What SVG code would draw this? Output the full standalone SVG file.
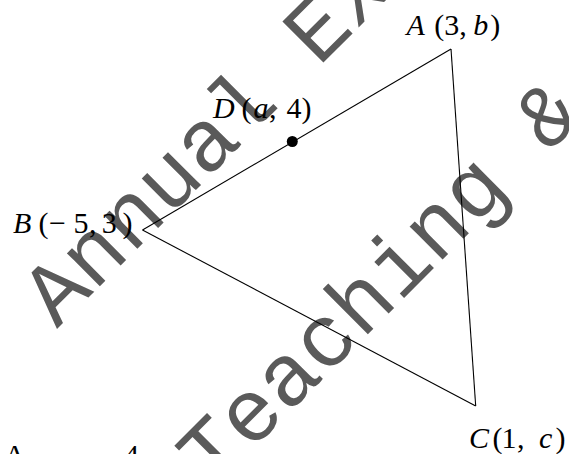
<svg xmlns="http://www.w3.org/2000/svg" width="569" height="454" viewBox="0 0 569 454">
<style>
.wm{font-family:"Liberation Mono","DejaVu Sans Mono",monospace;font-size:88px;fill:#5a5a5a}
.lbl{font-family:"Liberation Serif","Times New Roman",serif;font-size:30px;fill:#000}
.it{font-style:italic}
.edge{stroke:#000;stroke-width:1.1;fill:none}
</style>
<rect width="569" height="454" fill="#fff"/>
<g id="watermark">
<text class="wm" transform="translate(57,329) rotate(-45)">Annual Ex</text>
<text class="wm" transform="translate(213,489) rotate(-45)">Teaching &amp;</text>
</g>
<g id="connectors">
<line class="edge" x1="451" y1="49" x2="142.5" y2="230"/>
<line class="edge" x1="142.5" y1="230" x2="475.7" y2="406"/>
<line class="edge" x1="475.7" y1="406" x2="451" y2="49"/>
</g>
<g id="nodeA">
<text class="lbl" y="34.5"><tspan class="it" x="406.5">A</tspan><tspan x="434.3">(3,</tspan><tspan class="it" x="473.3">b</tspan><tspan x="490.2">)</tspan></text>
</g>
<g id="nodeB">
<text class="lbl" y="233"><tspan class="it" x="13">B</tspan><tspan x="38.6">(</tspan><tspan x="49">−</tspan><tspan x="73.5">5</tspan><tspan x="89">,</tspan><tspan x="101.7">3</tspan><tspan x="122.5">)</tspan></text>
</g>
<g id="nodeC">
<text class="lbl" y="447.5"><tspan class="it" x="469">C</tspan><tspan x="492.5">(</tspan><tspan x="501.5">1</tspan><tspan x="517">,</tspan><tspan class="it" x="539">c</tspan><tspan x="555.5">)</tspan></text>
</g>
<g id="nodeD">
<circle cx="292.3" cy="141.5" r="5.5" fill="#000"/>
<text class="lbl" y="118"><tspan class="it" x="213">D</tspan><tspan x="241.6">(</tspan><tspan class="it" x="253.5">a</tspan><tspan x="269">,</tspan><tspan x="286.6">4</tspan><tspan x="301.5">)</tspan></text>
</g>
<g id="cutoff">
<text class="lbl" x="4" y="465">A</text>
<text class="lbl" x="124" y="465">4</text>
</g>
</svg>
